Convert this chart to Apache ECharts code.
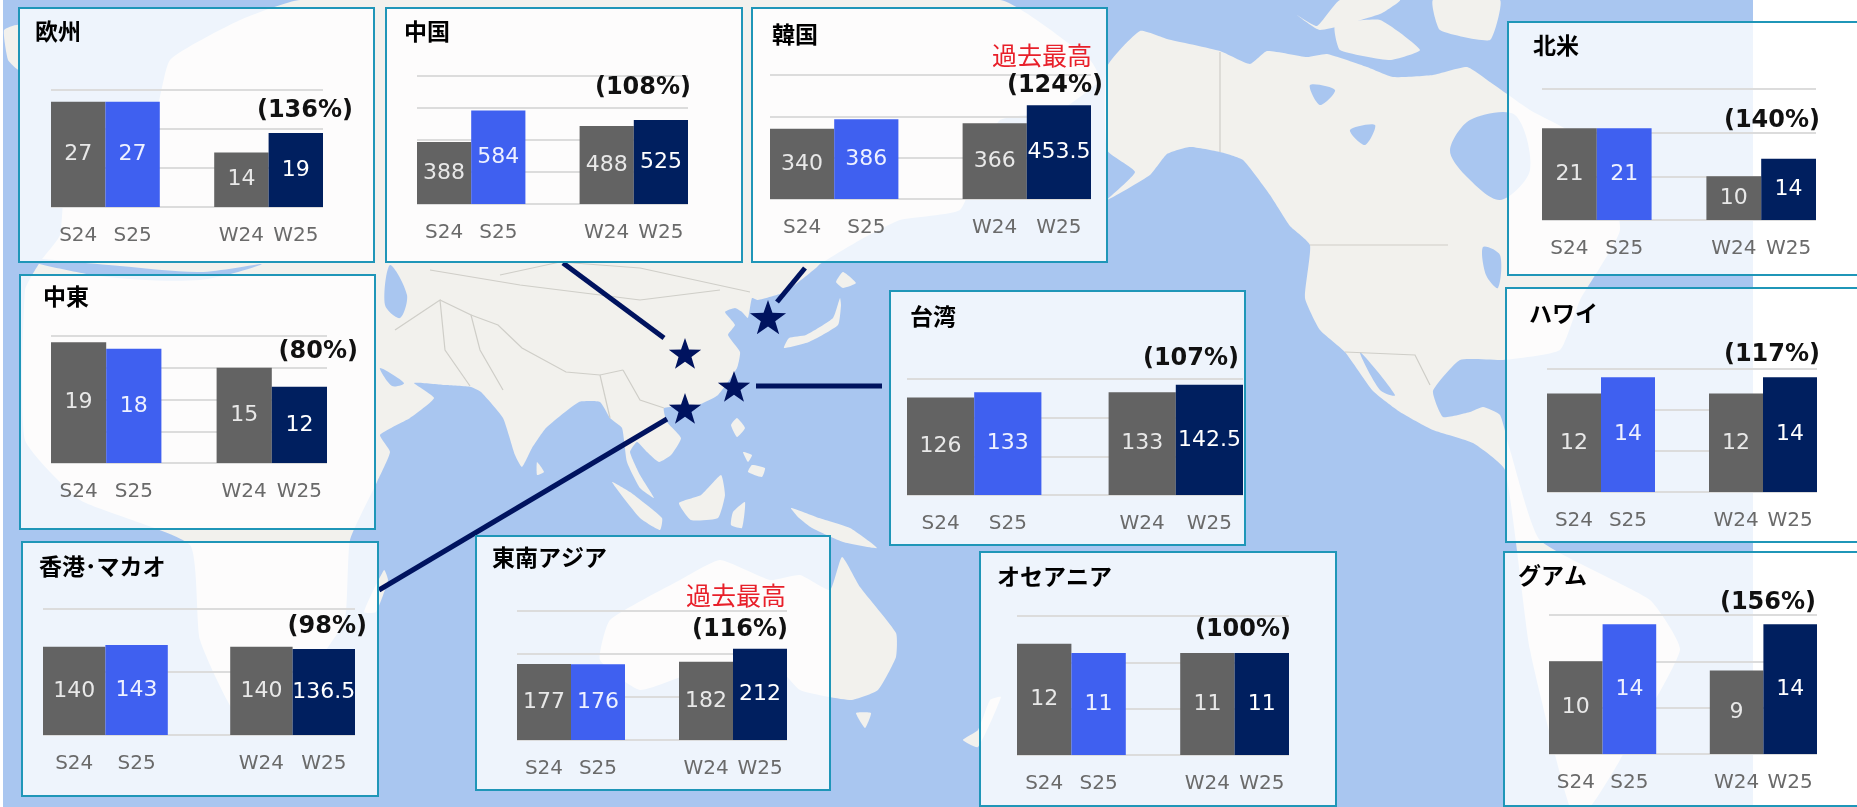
<!DOCTYPE html>
<html>
<head>
    <meta charset="utf-8">
    <title>ECharts</title>
    <script src="https://cdn.jsdelivr.net/npm/echarts@6/dist/echarts.min.js"></script>
    <style>
        html, body { margin: 0; padding: 0; background: #fff; }
        #main { width: 1857px; height: 807px; }
    </style>
</head>
<body>
    <div id="main"></div>
    <script type="text/javascript">
        // data
        var categories = ['S24', 'S25', '', 'W24', 'W25'];

        var europe = [27, 27, null, 14, 19];
        var china = [388, 584, null, 488, 525];
        var korea = [340, 386, null, 366, 453.5];
        var taiwan = [126, 133, null, 133, 142.5];
        var northAmerica = [21, 21, null, 10, 14];
        var hawaii = [12, 14, null, 12, 14];
        var guam = [10, 14, null, 9, 14];
        var middleEast = [19, 18, null, 15, 12];
        var hongKong = [140, 143, null, 140, 136.5];
        var seAsia = [177, 176, null, 182, 212];
        var oceania = [12, 11, null, 11, 11];

        var regionNames = ['欧州', '中国', '韓国', '台湾', '北米', 'ハワイ', 'グアム', '中東', '香港･マカオ', '東南アジア', 'オセアニア'];
        var percentLabels = ['(136%)', '(108%)', '(124%)', '(107%)', '(140%)', '(117%)', '(156%)', '(80%)', '(98%)', '(116%)', '(100%)'];
        var recordLabel = '過去最高';

        var barColors = ['#636363', '#3f60f0', '#636363', '#636363', '#001f5f'];
        var labelColors = ['#e8e8e8', '#eef1ff', '#e8e8e8', '#e8e8e8', '#ffffff'];

        // layout of each panel: box, plot area, axis, text anchors (full size pixels)
        var panels = [
            { v: europe,       box: [19, 8, 355, 254],   plot: [51, 90, 272, 117],   max: 30,  step: 10,  name: [35, 32],    pct: [353, 111] },
            { v: china,        box: [386, 8, 356, 254],  plot: [417, 76, 271, 128],  max: 800, step: 200, name: [404, 32],   pct: [691, 88] },
            { v: korea,        box: [752, 8, 355, 254],  plot: [770, 75, 321, 124],  max: 600, step: 200, name: [772, 35],   pct: [1103, 86], rec: [1092, 55] },
            { v: taiwan,       box: [890, 291, 355, 254], plot: [907, 379, 336, 116], max: 150, step: 50,  name: [910, 317],  pct: [1239, 359] },
            { v: northAmerica, box: [1508, 22, 400, 253], plot: [1542, 89, 274, 131], max: 30,  step: 10,  name: [1533, 46],  pct: [1820, 121] },
            { v: hawaii,       box: [1506, 288, 400, 254], plot: [1547, 369, 270, 123], max: 15, step: 5,   name: [1529, 314], pct: [1820, 355] },
            { v: guam,         box: [1504, 552, 400, 254], plot: [1549, 615, 268, 139], max: 15, step: 5,   name: [1518, 576], pct: [1816, 603] },
            { v: middleEast,   box: [20, 275, 355, 254], plot: [51, 336, 276, 127],  max: 20,  step: 5,   name: [43, 297],   pct: [358, 352] },
            { v: hongKong,     box: [22, 542, 356, 254], plot: [43, 609, 312, 126],  max: 200, step: 100, name: [39, 567],   pct: [367, 627] },
            { v: seAsia,       box: [476, 536, 354, 254], plot: [517, 611, 270, 129], max: 300, step: 100, name: [492, 558],  pct: [788, 630], rec: [786, 595] },
            { v: oceania,      box: [980, 552, 356, 254], plot: [1017, 616, 272, 139], max: 15, step: 5,   name: [997, 577],  pct: [1291, 630] }
        ];

        // backdrop map, rough outlines only
        var SEA = '#a9c6f0', LAND = '#f2f1ed', EDGE = '#cfcec8';
        var landShapes = [
            // Eurasia and Africa
            [[300,0],[1000,0],[1090,60],[1100,80],[1060,110],[1000,120],[980,160],[960,210],[900,220],[860,240],[820,264],[816,268],[785,292],[758,300],[752,298],[748,318],[742,312],[735,308],[725,312],[735,325],[728,335],[740,352],[737,368],[718,395],[698,405],[664,408],[667,422],[681,438],[671,455],[659,462],[647,452],[637,442],[630,452],[640,475],[654,498],[640,488],[627,462],[622,428],[610,418],[600,402],[579,402],[546,428],[532,448],[522,467],[515,455],[503,418],[481,392],[471,387],[444,385],[414,383],[434,398],[410,418],[380,435],[390,452],[377,482],[350,540],[345,620],[320,660],[300,720],[240,720],[200,640],[190,545],[80,500],[25,440],[25,290],[40,262],[60,235],[70,150],[150,130],[170,60],[240,20]],
            // North and Central America
            [[1107,67],[1140,31],[1167,39],[1220,51],[1250,64],[1267,51],[1307,57],[1327,54],[1367,67],[1393,77],[1433,75],[1467,67],[1490,82],[1530,110],[1600,150],[1620,230],[1580,300],[1560,350],[1503,360],[1460,360],[1433,391],[1443,417],[1470,412],[1483,407],[1500,415],[1510,450],[1540,540],[1650,600],[1680,650],[1620,760],[1590,807],[1570,807],[1530,650],[1505,470],[1473,443],[1433,430],[1400,412],[1373,391],[1345,352],[1320,330],[1305,298],[1310,245],[1290,226],[1270,195],[1243,160],[1220,152],[1190,147],[1167,154],[1150,175],[1107,200],[1135,172],[1107,150]],
            // Australia, Tasmania, New Zealand, New Guinea
            [[842,557],[860,587],[896,633],[896,657],[878,690],[851,700],[800,690],[770,660],[700,670],[640,690],[600,660],[610,620],[680,580],[720,560],[770,580],[800,575],[830,590]],
            [[856,713],[871,713],[865,728]],
            [[963,740],[978,730],[990,700],[1001,697],[978,747]],
            [[791,508],[819,518],[850,528],[877,548],[843,542],[812,528],[799,518]],
            // Japan, Philippines, Sri Lanka, Indonesia
            [[840,298],[833,318],[806,335],[789,338],[784,348],[809,342],[838,325],[841,305]],
            [[843,272],[856,283],[843,288],[836,282]],
            [[737,418],[745,428],[737,437],[731,425]],
            [[743,452],[752,455],[748,462]],
            [[752,465],[765,468],[762,477],[748,472]],
            [[537,462],[544,472],[537,475]],
            [[612,482],[630,492],[662,518],[660,530],[640,518]],
            [[721,475],[725,495],[718,518],[691,520],[679,503],[701,495]],
            [[733,512],[745,502],[742,528],[731,525]],
            // Madagascar, Arctic islands, Iceland side
            [[364,612],[384,570],[388,580],[376,612]],
            [[1297,15],[1317,26],[1340,0],[1400,0],[1380,14],[1320,30]],
            [[1335,25],[1380,20],[1420,50],[1390,60],[1340,50]],
            [[1433,0],[1500,0],[1490,40],[1440,30]],
            [[4,30],[19,25],[19,70],[8,60]]
        ];
        var waterShapes = [
            [[390,265],[407,295],[400,318],[385,305]],
            [[380,368],[404,383],[392,386]],
            [[20,258],[120,266],[200,272],[262,264],[200,280],[100,276]],
            [[1470,120],[1515,115],[1530,170],[1500,200],[1465,175],[1450,150]],
            [[1483,247],[1500,255],[1498,288],[1486,275]],
            [[1360,352],[1395,395],[1380,390]],
            [[1310,85],[1335,90],[1320,105]],
            [[1350,130],[1375,125],[1365,145]]
        ];
        var edgeLines = [
            [[471,315],[498,325],[522,348],[566,372],[600,375],[623,370]],
            [[1220,52],[1220,152]],
            [[1310,245],[1448,245]],
            [[1345,352],[1415,355],[1430,385]],
            [[440,300],[471,315],[480,350],[503,390]],
            [[600,375],[610,418]],
            [[430,270],[520,285],[640,300],[720,290]],
            [[395,330],[440,300],[445,350],[470,386]],
            [[623,370],[640,400],[664,408]],
            [[500,275],[560,262],[640,268],[750,292]]
        ];

        function star(cx, cy, r) {
            var pts = [];
            for (var i = 0; i < 10; i++) {
                var rr = i % 2 ? r * 0.4 : r;
                var a = -Math.PI / 2 + i * Math.PI / 5;
                pts.push([cx + rr * Math.cos(a), cy + rr * Math.sin(a)]);
            }
            return pts;
        }

        var LEADER = '#00135f';
        var stars = [[685, 355, 17], [768, 319, 19], [734, 388, 17], [685, 410, 17]];
        var leaders = [[563, 263, 664, 338], [805, 268, 777, 302], [756, 386, 882, 386], [379, 590, 667, 419]];

        var FONT = '"DejaVu Sans", Verdana, sans-serif';
        var CJK = '"Noto Sans CJK JP", sans-serif';

        var graphics = [];
        graphics.push({ type: 'rect', z: -20, silent: true, shape: { x: 0, y: 0, width: 1857, height: 807 }, style: { fill: '#ffffff' } });
        graphics.push({ type: 'rect', z: -19, silent: true, shape: { x: 3, y: 0, width: 1750, height: 807 }, style: { fill: SEA } });

        landShapes.forEach(function (p) {
            graphics.push({ type: 'polygon', z: -18, silent: true, shape: { points: p, smooth: 0.15 }, style: { fill: LAND } });
        });
        waterShapes.forEach(function (p) {
            graphics.push({ type: 'polygon', z: -17, silent: true, shape: { points: p, smooth: 0.3 }, style: { fill: SEA } });
        });
        edgeLines.forEach(function (p) {
            graphics.push({ type: 'polyline', z: -17, silent: true, shape: { points: p }, style: { fill: null, stroke: EDGE, lineWidth: 1.2 } });
        });
        // map stops at a white strip on the right
        graphics.push({ type: 'rect', z: -16, silent: true, shape: { x: 1753, y: 0, width: 104, height: 807 }, style: { fill: '#ffffff' } });

        leaders.forEach(function (l) {
            graphics.push({ type: 'line', z: -15, silent: true, shape: { x1: l[0], y1: l[1], x2: l[2], y2: l[3] }, style: { stroke: LEADER, lineWidth: 5 } });
        });
        stars.forEach(function (s) {
            graphics.push({ type: 'polygon', z: -15, silent: true, shape: { points: star(s[0], s[1], s[2]) }, style: { fill: LEADER } });
        });

        var grids = [], xAxes = [], yAxes = [], series = [], titles = [];

        panels.forEach(function (p, i) {
            graphics.push({
                type: 'rect', z: -10, silent: true,
                shape: { x: p.box[0], y: p.box[1], width: p.box[2], height: p.box[3] },
                style: { fill: 'rgba(255,255,255,0.8)', stroke: '#1f96b8', lineWidth: 2 }
            });
            graphics.push({
                type: 'text', z: 10, silent: true,
                style: { x: p.pct[0], y: p.pct[1], text: percentLabels[i], align: 'right', verticalAlign: 'middle', fill: '#111', font: 'bold 24px ' + FONT }
            });
            if (p.rec) {
                graphics.push({
                    type: 'text', z: 10, silent: true,
                    style: { x: p.rec[0], y: p.rec[1], text: recordLabel, align: 'right', verticalAlign: 'middle', fill: '#e8202a', font: '25px ' + CJK }
                });
            }
            titles.push({
                text: regionNames[i], left: p.name[0], top: p.name[1] - 12, padding: 0,
                textStyle: { color: '#000', fontSize: 23, fontWeight: 'bold', fontFamily: CJK }
            });
            grids.push({ left: p.plot[0], top: p.plot[1], width: p.plot[2], height: p.plot[3], containLabel: false });
            xAxes.push({
                type: 'category', gridIndex: i, data: categories,
                axisLine: { show: false }, axisTick: { show: false }, splitLine: { show: false },
                axisLabel: { interval: 0, margin: 19, color: '#6a6a6a', fontSize: 20, fontFamily: FONT }
            });
            yAxes.push({
                type: 'value', gridIndex: i, min: 0, max: p.max, interval: p.step,
                axisLine: { show: false }, axisTick: { show: false }, axisLabel: { show: false },
                splitLine: { show: true, lineStyle: { color: '#dcdcdc', width: 2 } }
            });
            series.push({
                type: 'bar', xAxisIndex: i, yAxisIndex: i, barWidth: '100%', silent: true, animation: false,
                itemStyle: { color: function (d) { return barColors[d.dataIndex]; } },
                label: {
                    show: true, position: 'inside', fontSize: 22, fontFamily: FONT,
                    formatter: function (d) { return d.value == null ? '' : String(d.value); }
                },
                data: p.v.map(function (val, k) {
                    return { value: val, label: { color: labelColors[k] } };
                })
            });
        });

        var myChart = echarts.init(document.getElementById('main'));
        myChart.setOption({
            animation: false,
            title: titles,
            grid: grids,
            xAxis: xAxes,
            yAxis: yAxes,
            series: series,
            graphic: { elements: graphics }
        });
    </script>
</body>
</html>
